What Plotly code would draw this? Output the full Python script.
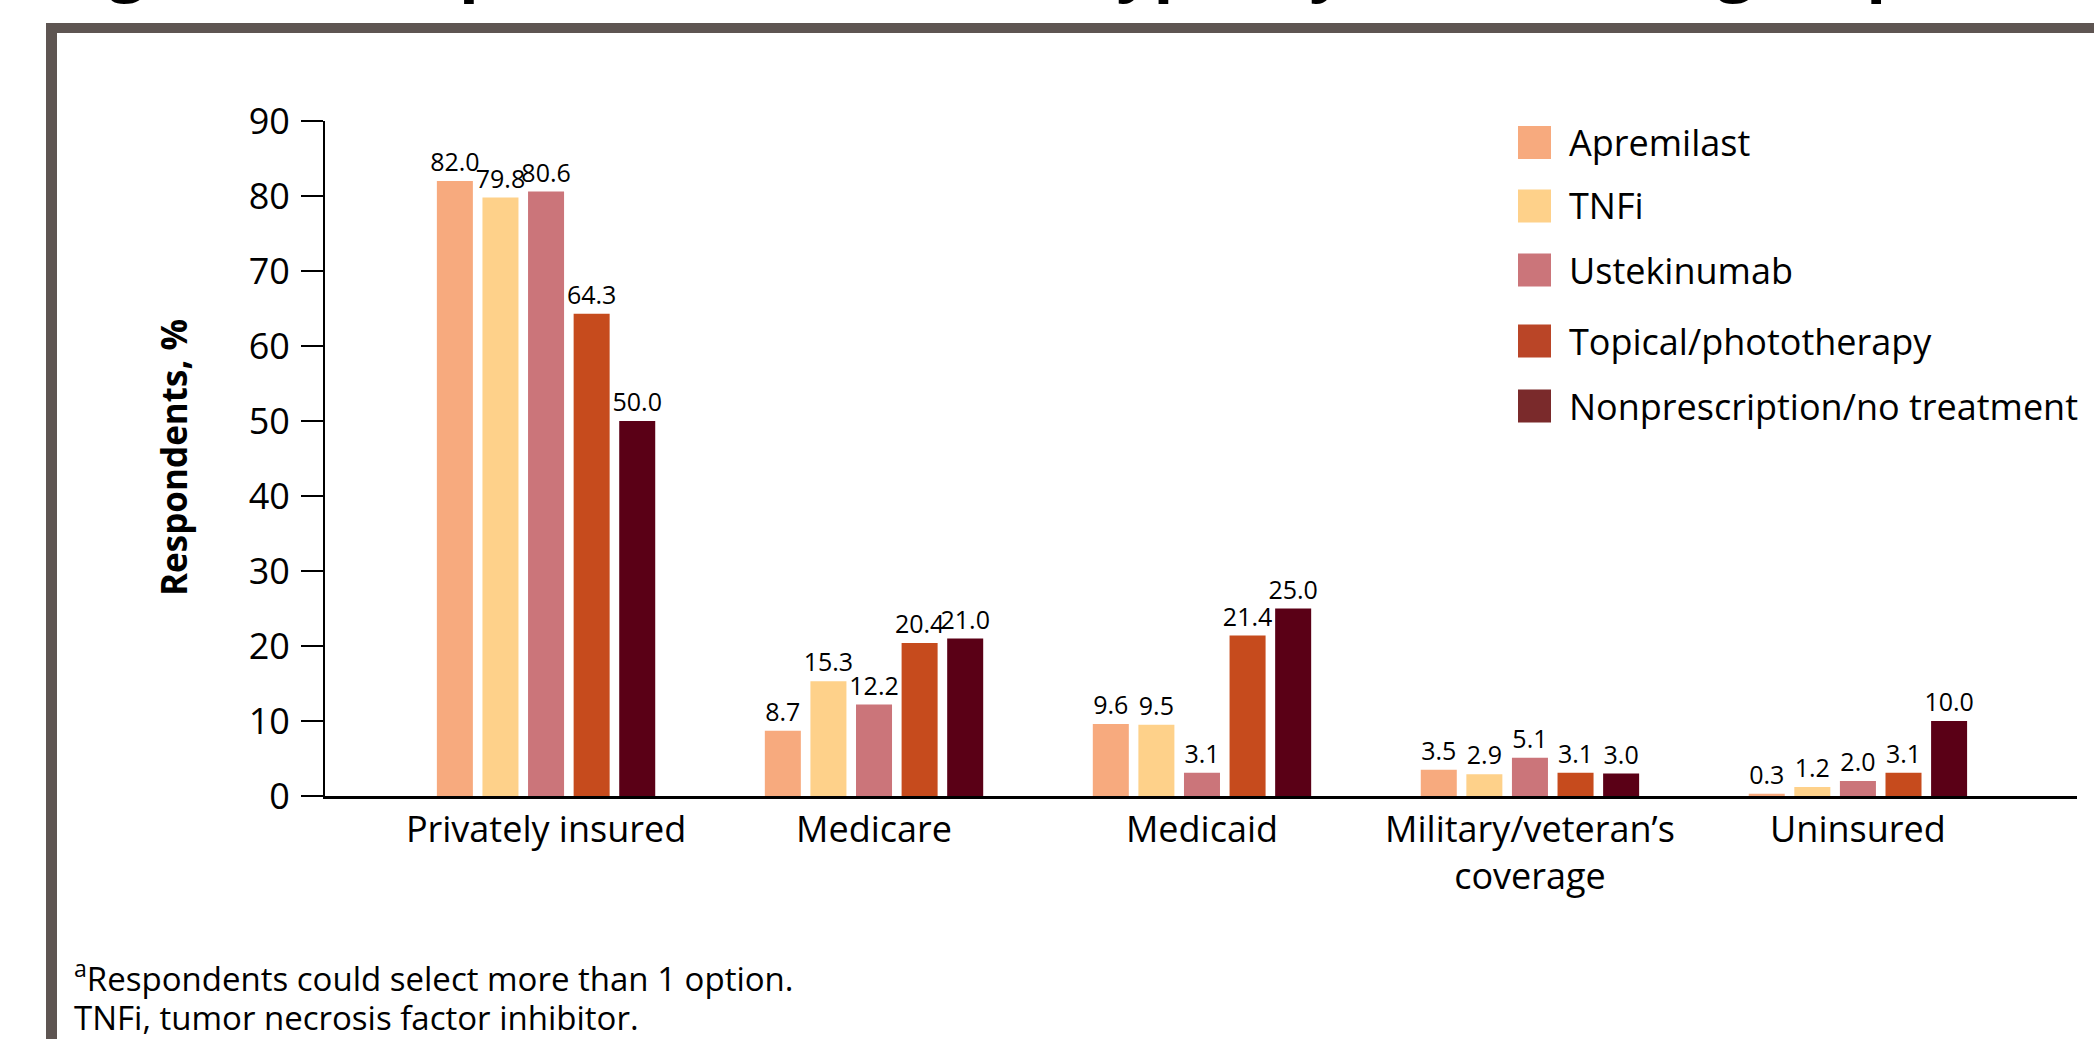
import plotly.graph_objects as go

# ---------------- data ----------------
categories = ["Privately insured", "Medicare", "Medicaid",
              "Military/veteran’s<br>coverage", "Uninsured"]
series_names = ["Apremilast", "TNFi", "Ustekinumab",
                "Topical/phototherapy", "Nonprescription/no treatment"]
apremilast = [82.0, 8.7, 9.6, 3.5, 0.3]
tnfi = [79.8, 15.3, 9.5, 2.9, 1.2]
ustekinumab = [80.6, 12.2, 3.1, 5.1, 2.0]
topical = [64.3, 20.4, 21.4, 3.1, 3.1]
nonprescription = [50.0, 21.0, 25.0, 3.0, 10.0]
series_values = [apremilast, tnfi, ustekinumab, topical, nonprescription]
y_ticks = [0, 10, 20, 30, 40, 50, 60, 70, 80, 90]

title_text = "Figure 3. Respondent insurance type, by treatment group"
y_title = "Respondents, %"
footnotes = ["<sup>a</sup>Respondents could select more than 1 option.",
             "TNFi, tumor necrosis factor inhibitor."]

# ---------------- style ----------------
bar_colors = ["#F7AA7E", "#FED18A", "#CB757A", "#C64B1D", "#5A0016"]
legend_colors = ["#F7AA7E", "#FED18A", "#CB757A", "#BA4527", "#7A2A2B"]
FONT = "Open Sans"
W, H = 2094, 1039
L, R, T, B = 325, 2077, 121, 796  # plot area in pixels


def xp(px):
    return (px - L) / (R - L)


def yp(py):
    return (B - py) / (B - T)


fig = go.Figure()
for name, vals, col in zip(series_names, series_values, bar_colors):
    fig.add_trace(go.Bar(
        x=categories, y=vals, name=name, marker_color=col,
        marker_line_width=0,
        text=[f"{v:.1f}" for v in vals], textposition="outside",
        textangle=0, constraintext="none", cliponaxis=False,
        textfont=dict(family=FONT, size=25, color="#000000"),
        showlegend=False,
    ))

shapes = []
annotations = []

# manual legend with large swatches
leg_y = [142.5, 206, 270, 341, 406]
for name, col, cy in zip(series_names, legend_colors, leg_y):
    shapes.append(dict(type="rect", xref="paper", yref="paper",
                       x0=xp(1518), x1=xp(1551), y0=yp(cy + 16.5), y1=yp(cy - 16.5),
                       fillcolor=col, line=dict(width=0)))
    annotations.append(dict(text=name, xref="paper", yref="paper",
                            x=xp(1567), y=yp(cy), xanchor="left", yanchor="middle",
                            showarrow=False,
                            font=dict(family=FONT, size=36, color="#000000")))

# frame (dark grey top and left bars)
frame_col = "#5E5552"
shapes.append(dict(type="rect", xref="paper", yref="paper",
                   x0=xp(46), x1=xp(2100), y0=yp(33), y1=yp(23),
                   fillcolor=frame_col, line=dict(width=0), layer="above"))
shapes.append(dict(type="rect", xref="paper", yref="paper",
                   x0=xp(46), x1=xp(57), y0=yp(1045), y1=yp(23),
                   fillcolor=frame_col, line=dict(width=0), layer="above"))

# title, mostly above the top edge (only its lower part visible)
annotations.append(dict(text=f"<b>{title_text}</b>", xref="paper", yref="paper",
                        x=xp(51), y=yp(9), xanchor="left", yanchor="bottom",
                        showarrow=False,
                        font=dict(family=FONT, size=65, color="#000000")))

# y axis title
annotations.append(dict(text=f"<b>{y_title}</b>", xref="paper", yref="paper",
                        x=xp(173), y=yp(458), xanchor="center", yanchor="middle",
                        textangle=-90, showarrow=False,
                        font=dict(family=FONT, size=35, color="#000000")))

# footnotes
for txt, cy in zip(footnotes, [977, 1017]):
    annotations.append(dict(text=txt, xref="paper", yref="paper",
                            x=xp(72), y=yp(cy), xanchor="left", yanchor="middle",
                            showarrow=False,
                            font=dict(family=FONT, size=33, color="#000000")))

fig.update_layout(
    width=W, height=H, autosize=False,
    margin=dict(l=L, r=W - R, t=T, b=H - B, pad=0),
    paper_bgcolor="#FFFFFF", plot_bgcolor="#FFFFFF",
    barmode="group", bargap=0.305, bargroupgap=0.21,
    font=dict(family=FONT, color="#000000"),
    showlegend=False,
    shapes=shapes, annotations=annotations,
    xaxis=dict(range=[-0.674, 4.668], showline=True, linecolor="#000000",
               linewidth=3, ticks="", showgrid=False, zeroline=False,
               tickfont=dict(family=FONT, size=36, color="#000000")),
    yaxis=dict(range=[0, 90], tickvals=y_ticks, showline=True,
               linecolor="#000000", linewidth=2, ticks="outside",
               ticklen=22, tickwidth=2, tickcolor="#000000",
               ticklabelstandoff=4,
               showgrid=False, zeroline=False,
               tickfont=dict(family=FONT, size=36, color="#000000")),
)

fig.write_html("out.html")
